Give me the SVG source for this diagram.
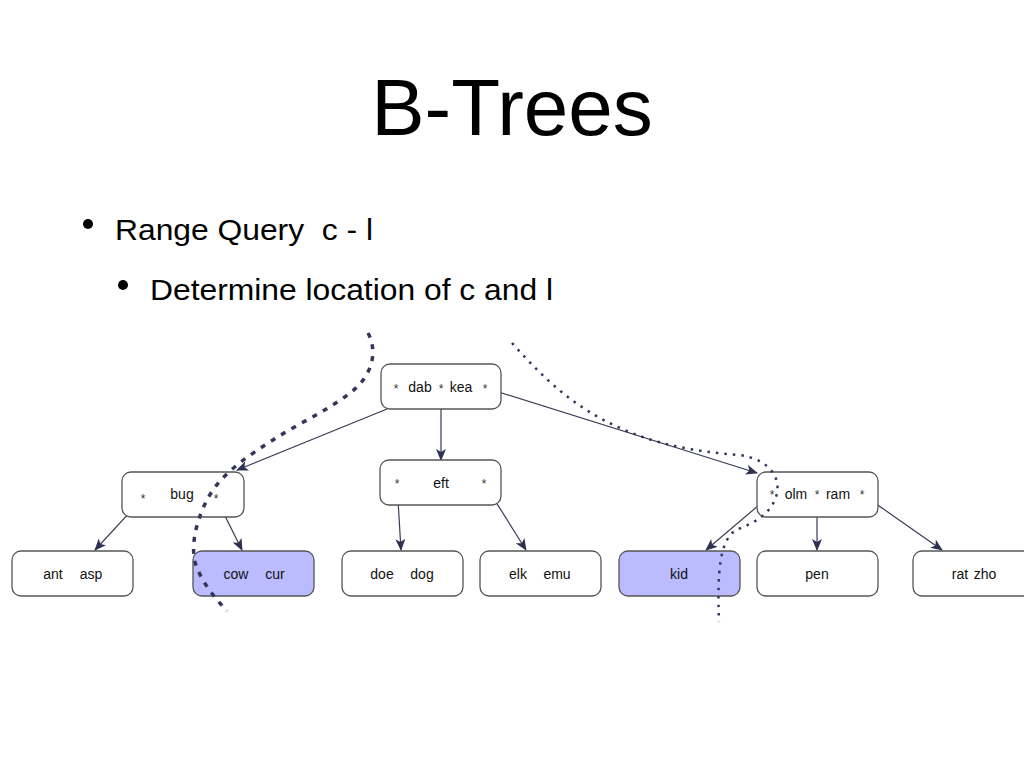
<svg xmlns="http://www.w3.org/2000/svg" width="1024" height="768" viewBox="0 0 1024 768">
<defs>
<marker id="ah" markerWidth="12" markerHeight="10" refX="11" refY="5" orient="auto" markerUnits="userSpaceOnUse">
<path d="M0,0 L12,5 L0,10 L3,5 Z" fill="#2e3152"/>
</marker>
<style>
.box{fill:#fff;stroke:#555;stroke-width:1.3}
.hl{fill:#babcff;stroke:#555;stroke-width:1.3}
.t{font-family:"Liberation Sans",Arial,sans-serif;font-size:14px;fill:#111;text-anchor:middle}
.st{font-family:"Liberation Sans",Arial,sans-serif;font-size:12px;fill:#333;text-anchor:middle}
.edge{stroke:#3a3c55;stroke-width:1.2;fill:none;marker-end:url(#ah)}
.big{font-family:"Liberation Sans",Arial,sans-serif;fill:#000}
</style>
</defs>
<rect width="1024" height="768" fill="#fff"/>
<text class="big" x="512" y="135" font-size="80" text-anchor="middle">B-Trees</text>
<circle cx="88" cy="224" r="5" fill="#000"/>
<text class="big" x="115" y="240" font-size="29" xml:space="preserve" textLength="258" lengthAdjust="spacingAndGlyphs">Range Query  c - l</text>
<circle cx="123" cy="285" r="5" fill="#000"/>
<text class="big" x="150" y="300" font-size="29" textLength="403" lengthAdjust="spacingAndGlyphs">Determine location of c and l</text>

<g id="connectors">
<line class="edge" x1="387" y1="409" x2="237" y2="470"/>
<line class="edge" x1="441" y1="389" x2="441" y2="460"/>
<line class="edge" x1="486" y1="388" x2="757" y2="473"/>
<line class="edge" x1="143" y1="498" x2="95" y2="550"/>
<line class="edge" x1="216" y1="498" x2="242" y2="550"/>
<line class="edge" x1="397" y1="483" x2="401" y2="550"/>
<line class="edge" x1="484" y1="483" x2="526" y2="550"/>
<line class="edge" x1="772" y1="494" x2="706" y2="550"/>
<line class="edge" x1="817" y1="494" x2="817" y2="550"/>
<line class="edge" x1="862" y1="494" x2="942" y2="550"/>
</g>

<g id="root">
<rect class="box" x="381" y="364" width="120" height="45" rx="9"/>
<text class="st" x="396" y="393">*</text>
<text class="t" x="420" y="392">dab</text>
<text class="st" x="441" y="393">*</text>
<text class="t" x="461" y="392">kea</text>
<text class="st" x="485" y="393">*</text>
</g>
<g id="bug">
<rect class="box" x="122" y="472" width="122" height="45" rx="9"/>
<text class="st" x="143" y="503">*</text>
<text class="t" x="182" y="499">bug</text>
<text class="st" x="216" y="503">*</text>
</g>
<g id="eft">
<rect class="box" x="380" y="460" width="121" height="45" rx="9"/>
<text class="st" x="397" y="488">*</text>
<text class="t" x="441" y="488">eft</text>
<text class="st" x="484" y="488">*</text>
</g>
<g id="olm">
<rect class="box" x="757" y="472" width="121" height="45" rx="9"/>
<text class="st" x="772" y="499">*</text>
<text class="t" x="796" y="499">olm</text>
<text class="st" x="817" y="499">*</text>
<text class="t" x="838" y="499">ram</text>
<text class="st" x="862" y="499">*</text>
</g>
<g id="antasp">
<rect class="box" x="12" y="551" width="121" height="45" rx="9"/>
<text class="t" x="53" y="579">ant</text>
<text class="t" x="91" y="579">asp</text>
</g>
<g id="cowcur">
<rect class="hl" x="193" y="551" width="121" height="45" rx="9"/>
<text class="t" x="236" y="579">cow</text>
<text class="t" x="275" y="579">cur</text>
</g>
<g id="doedog">
<rect class="box" x="342" y="551" width="121" height="45" rx="9"/>
<text class="t" x="382" y="579">doe</text>
<text class="t" x="422" y="579">dog</text>
</g>
<g id="elkemu">
<rect class="box" x="480" y="551" width="121" height="45" rx="9"/>
<text class="t" x="518" y="579">elk</text>
<text class="t" x="557" y="579">emu</text>
</g>
<g id="kid">
<rect class="hl" x="619" y="551" width="121" height="45" rx="9"/>
<text class="t" x="679" y="579">kid</text>
</g>
<g id="pen">
<rect class="box" x="757" y="551" width="121" height="45" rx="9"/>
<text class="t" x="817" y="579">pen</text>
</g>
<g id="ratzho">
<rect class="box" x="913" y="551" width="121" height="45" rx="9"/>
<text class="t" x="960" y="579">rat</text>
<text class="t" x="985" y="579">zho</text>
</g>

<g id="bounds">
<path d="M368,333 C376,348 375,368 358,386 C340,404 305,420 276,438 C248,456 220,474 207,500 C194,525 190,552 197,568 C204,585 215,598 227,611" fill="none" stroke="#33365a" stroke-width="3.5" stroke-dasharray="5 7"/>
<path d="M512,343 C545,380 575,408 620,428 C660,446 700,452 740,455 C770,460 782,478 776,497 C770,515 752,524 736,530 C720,540 717,570 719,622" fill="none" stroke="#33365a" stroke-width="2.5" stroke-dasharray="2.5 6"/>
</g>
</svg>
